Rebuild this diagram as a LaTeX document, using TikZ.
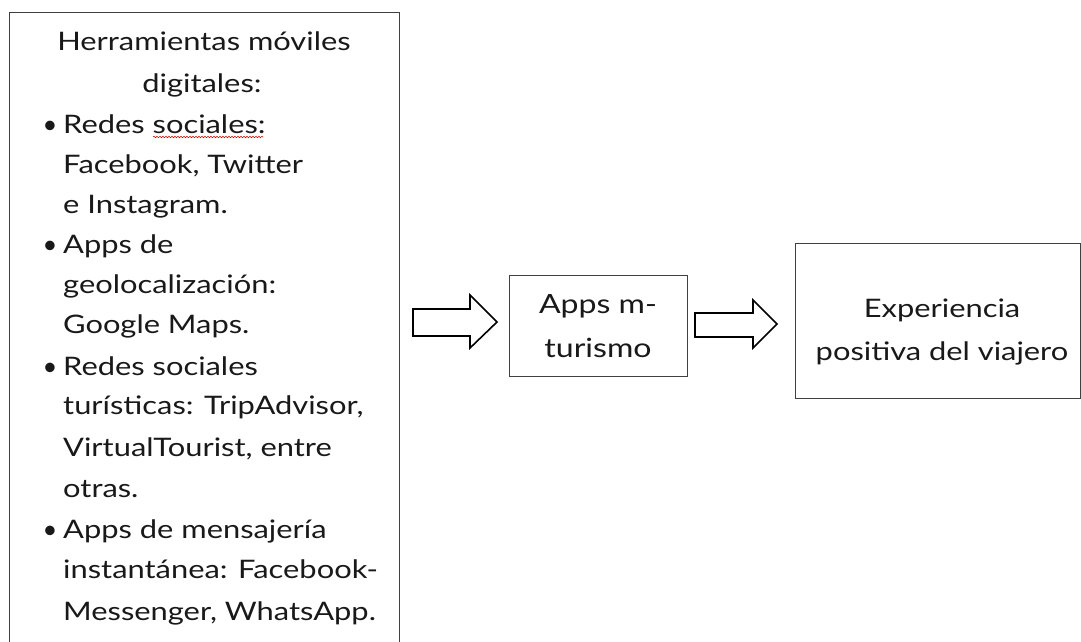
\documentclass[tikz,border=0pt]{standalone}
\usepackage{fontspec}
\usepackage{graphicx}
\setmainfont{Lato}
\usetikzlibrary{decorations.pathmorphing}
\newcommand{\wx}[1]{\scalebox{1.21}[1]{#1}}
\begin{document}
\begin{tikzpicture}[x=1pt,y=-1pt,
  box/.style={draw=black!75, line width=1.1pt, inner sep=0pt},
  barrow/.style={draw=black, line width=1.6pt, fill=white, line join=miter},
  ltxt/.style={inner sep=0pt, text=black!90, font=\fontsize{25.5}{30}\selectfont},
  mtxt/.style={inner sep=0pt, text=black!90, font=\fontsize{26.5}{30}\selectfont},
  rtxt/.style={inner sep=0pt, text=black!90, font=\fontsize{25.5}{30}\selectfont}]
\useasboundingbox (0,0) rectangle (1081,641);
\clip (0,0) rectangle (1081,641);
\fill[white] (0,0) rectangle (1081,641);
% left box
\node[box, anchor=north west, minimum width=390pt, minimum height=680pt] (tools) at (9,12) {};
\node[ltxt, anchor=base] (t1) at (204,50) {\wx{Herramientas móviles}};
\node[ltxt, anchor=base] (t2) at (202,92) {\wx{digitales:}};
\node[ltxt, anchor=base] (b1) at (50,133) {•};
\node[ltxt, anchor=base west] (t3) at (63,133) {\wx{Redes sociales:}};
\node[ltxt, anchor=base west] (t4) at (63,173) {\wx{Facebook, Twitter}};
\node[ltxt, anchor=base west] (t5) at (63,213) {\wx{e Instagram.}};
\node[ltxt, anchor=base] (b2) at (50,253) {•};
\node[ltxt, anchor=base west] (t6) at (63,253) {\wx{Apps de}};
\node[ltxt, anchor=base west] (t7) at (63,293) {\wx{geolocalización:}};
\node[ltxt, anchor=base west] (t8) at (63,333) {\wx{Google Maps.}};
\node[ltxt, anchor=base] (b3) at (50,375) {•};
\node[ltxt, anchor=base west] (t9) at (63,375) {\wx{Redes sociales}};
\node[ltxt, anchor=base west] (t10) at (63,414) {\wx{turísticas: TripAdvisor,}};
\node[ltxt, anchor=base west] (t11) at (63,456) {\wx{VirtualTourist, entre}};
\node[ltxt, anchor=base west] (t12) at (63,497) {\wx{otras.}};
\node[ltxt, anchor=base] (b4) at (50,538) {•};
\node[ltxt, anchor=base west] (t13) at (63,538) {\wx{Apps de mensajería}};
\node[ltxt, anchor=base west] (t14) at (63,578) {\wx{instantánea: Facebook-}};
\node[ltxt, anchor=base west] (t15) at (63,620) {\wx{Messenger, WhatsApp.}};
\draw[red!85!black, line width=0.6pt, decorate, decoration={snake, amplitude=0.7pt, segment length=3pt}] (153,137) -- (263,137);
% middle box
\node[box, anchor=north west, minimum width=178pt, minimum height=101pt] (mid) at (509,275) {};
\node[mtxt, anchor=base] (m1) at (598,313) {\wx{Apps m-}};
\node[mtxt, anchor=base] (m2) at (598,357) {\wx{turismo}};
% right box
\node[box, anchor=north west, minimum width=285pt, minimum height=155pt] (exp) at (795,243) {};
\node[rtxt, anchor=base] (r1) at (942,317) {\wx{Experiencia}};
\node[rtxt, anchor=base] (r2) at (942,360) {\wx{positiva del viajero}};
% block arrows
\draw[barrow] (413,309) -- (470,309) -- (470,295) -- (497,322) -- (470,348) -- (470,336) -- (413,336) -- cycle;
\draw[barrow] (695,313) -- (753,313) -- (753,300) -- (777,324) -- (753,348) -- (753,337) -- (695,337) -- cycle;
\end{tikzpicture}
\end{document}
